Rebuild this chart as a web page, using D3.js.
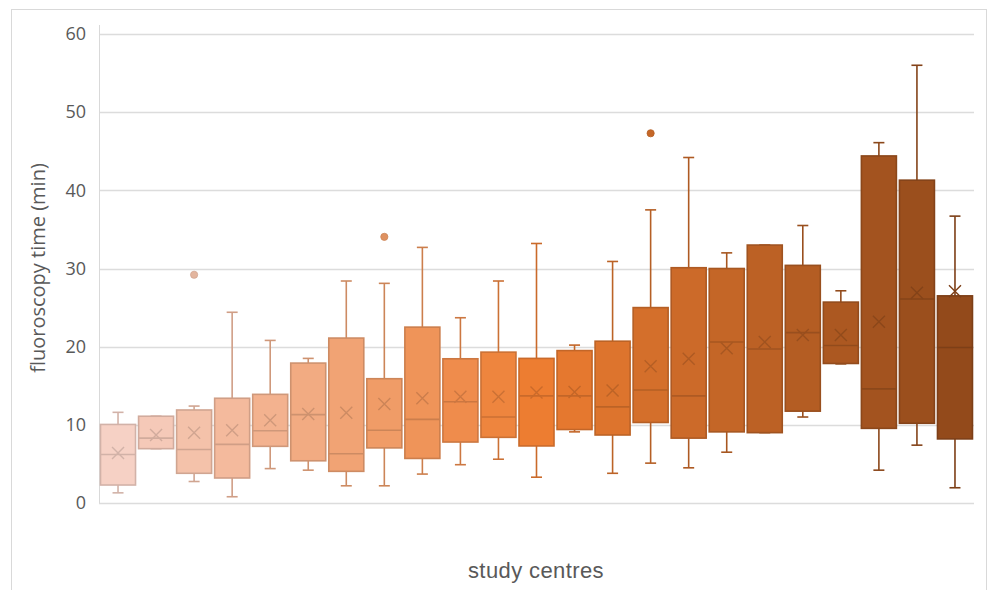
<!DOCTYPE html>
<html><head><meta charset="utf-8">
<script src="https://cdn.jsdelivr.net/npm/d3@7"></script>
<style>html,body{margin:0;padding:0;background:#fff;overflow:hidden}</style>
</head><body>
<svg id="chart" width="987" height="590"></svg>
<script>
const categories = d3.range(1, 24).map(String);
const whiskerLow  = [1.3, 6.95, 2.75, 0.8, 4.4, 4.2, 2.2, 2.2, 3.7, 4.9, 5.6, 3.3, 9.1, 3.8, 5.1, 4.5, 6.5, 9.0, 11.0, 17.8, 4.2, 7.4, 1.95];
const q1          = [2.3, 6.95, 3.8, 3.2, 7.25, 5.4, 4.05, 7.05, 5.7, 7.8, 8.4, 7.3, 9.4, 8.7, 10.3, 8.3, 9.1, 9.0, 11.75, 17.85, 9.55, 10.2, 8.2];
const median      = [6.2, 8.3, 6.85, 7.5, 9.25, 11.3, 6.3, 9.3, 10.7, 12.95, 11.0, 13.7, 13.7, 12.3, 14.45, 13.7, 20.6, 19.7, 21.8, 20.15, 14.6, 26.1, 19.9];
const q3          = [10.05, 11.1, 11.9, 13.4, 13.9, 17.9, 21.1, 15.9, 22.5, 18.45, 19.3, 18.5, 19.5, 20.7, 25.0, 30.1, 30.0, 33.0, 30.4, 25.7, 44.4, 41.3, 26.5];
const whiskerHigh = [11.6, 11.1, 12.4, 24.4, 20.8, 18.5, 28.4, 28.1, 32.7, 23.7, 28.4, 33.2, 20.2, 30.9, 37.5, 44.2, 32.0, 33.0, 35.5, 27.15, 46.1, 56.0, 36.7];
const means       = [6.4, 8.7, 9.0, 9.3, 10.6, 11.4, 11.55, 12.65, 13.4, 13.6, 13.6, 14.15, 14.2, 14.4, 17.5, 18.45, 19.8, 20.6, 21.5, 21.5, 23.2, 26.9, 27.1];
const outliers    = [[], [], [29.2], [], [], [], [], [34.05], [], [], [], [], [], [], [47.3], [], [], [], [], [], [], [], []];
const yTicks = [0, 10, 20, 30, 40, 50, 60];
const yTitle = "fluoroscopy time (min)";
const xTitle = "study centres";

const svg = d3.select("#chart");
const pLeft = 99, pRight = 974, pTop = 34, pBottom = 503;

// outer frame
svg.append("rect").attr("x", 11.5).attr("y", 9.5).attr("width", 975).attr("height", 600)
  .attr("fill", "none").attr("stroke", "#d9d9d9").attr("stroke-width", 1);

const x = d3.scaleBand().domain(categories).range([pLeft, pRight]).paddingInner(0.08).paddingOuter(0.04);
const y = d3.scaleLinear().domain([0, 60]).range([pBottom, pTop]);

const color = d3.scaleLinear().domain([0, 11, 22]).range(["#f6d1c5", "#ed7d31", "#934a1b"]).interpolate(d3.interpolateRgb);
const strokeC = i => d3.color(color(i)).darker(0.45).formatHex();

// gridlines
svg.append("g").selectAll("line").data(yTicks).join("line")
  .attr("x1", pLeft).attr("x2", pRight)
  .attr("y1", d => Math.round(y(d)) + 0.5).attr("y2", d => Math.round(y(d)) + 0.5)
  .attr("stroke", "#dcdcdc").attr("stroke-width", 1.3);
svg.append("line").attr("x1", pLeft + 0.5).attr("x2", pLeft + 0.5).attr("y1", 25).attr("y2", pBottom)
  .attr("stroke", "#d9d9d9").attr("stroke-width", 1);

// y axis labels
const yAxis = d3.axisLeft(y).tickValues(yTicks).tickSize(0).tickPadding(11);
const ya = svg.append("g").attr("transform", `translate(${pLeft - 2},0)`).call(yAxis);
ya.select(".domain").remove();
ya.selectAll("text").attr("fill", "#595959").style("font-family", "'Open Sans', sans-serif").style("font-size", "18px");

const bw = x.bandwidth();
const g = svg.append("g");
categories.forEach((c, i) => {
  const cx = x(c) + bw / 2;
  const sc = strokeC(i);
  g.append("line").attr("x1", cx).attr("x2", cx).attr("y1", y(whiskerHigh[i])).attr("y2", y(q3[i])).attr("stroke", sc).attr("stroke-width", 1.6);
  g.append("line").attr("x1", cx).attr("x2", cx).attr("y1", y(whiskerLow[i])).attr("y2", y(q1[i])).attr("stroke", sc).attr("stroke-width", 1.6);
  g.append("line").attr("x1", cx - 5.5).attr("x2", cx + 5.5).attr("y1", y(whiskerHigh[i])).attr("y2", y(whiskerHigh[i])).attr("stroke", sc).attr("stroke-width", 1.6);
  g.append("line").attr("x1", cx - 5.5).attr("x2", cx + 5.5).attr("y1", y(whiskerLow[i])).attr("y2", y(whiskerLow[i])).attr("stroke", sc).attr("stroke-width", 1.6);
  g.append("rect").attr("x", x(c)).attr("width", bw)
    .attr("y", y(q3[i])).attr("height", y(q1[i]) - y(q3[i]))
    .attr("fill", color(i)).attr("stroke", sc).attr("stroke-width", 1.6);
  g.append("line").attr("x1", x(c)).attr("x2", x(c) + bw).attr("y1", y(median[i])).attr("y2", y(median[i])).attr("stroke", sc).attr("stroke-width", 1.6);
  const my = y(means[i]), s = 6;
  g.append("path").attr("d", `M${cx - s},${my - s}L${cx + s},${my + s}M${cx - s},${my + s}L${cx + s},${my - s}`)
    .attr("stroke", sc).attr("stroke-width", 1.4).attr("fill", "none");
  outliers[i].forEach(v => {
    g.append("circle").attr("cx", cx).attr("cy", y(v)).attr("r", 3.6).attr("fill", d3.color(color(i)).darker(0.2)).attr("stroke", sc).attr("stroke-width", 0.8);
  });
});

svg.append("text").attr("transform", "translate(45,268) rotate(-90)").attr("text-anchor", "middle")
  .attr("fill", "#595959").style("font-family", "'Open Sans', sans-serif").style("font-size", "20px").text(yTitle);
svg.append("text").attr("x", 536).attr("y", 578).attr("text-anchor", "middle")
  .attr("fill", "#595959").style("font-family", "'Liberation Sans', Arial, sans-serif").style("font-size", "22px")
  .style("letter-spacing", "0.4px").text(xTitle);
</script>
</body></html>
